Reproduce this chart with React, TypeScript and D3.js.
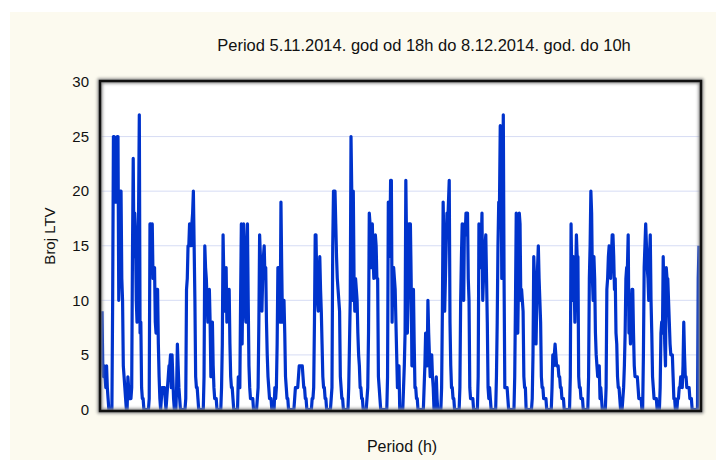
import React from 'react';
import * as d3 from 'd3';

const title = 'Period 5.11.2014. god od 18h do 8.12.2014. god. do 10h';
const yLabel = 'Broj LTV';
const xLabel = 'Period (h)';
const yTicks = [0, 5, 10, 15, 20, 25, 30];

// hourly counts, one row per day (5.11 starts at 18h, 8.12 ends at 10h)
const weekNov05 = [
  9, 4, 3, 4, 3, 2,
  4, 2, 1, 0, 0, 0, 0, 0, 10, 25, 25, 22, 19, 22, 25, 25, 10, 15, 20, 20, 12, 10, 4, 3,
  2, 1, 0, 0, 3, 2, 1, 1, 1, 2, 14, 23, 14, 18, 16, 10, 8, 12, 18, 27, 7, 8, 2, 1,
  1, 0, 0, 0, 0, 0, 0, 0, 1, 17, 17, 15, 17, 12, 13, 13, 8, 7, 11, 11, 6, 3, 1, 0,
  1, 2, 2, 2, 2, 1, 0, 1, 2, 3, 4, 4, 5, 2, 5, 3, 1, 0, 0, 0, 2, 6, 4, 2,
];
const weekNov10 = [
  1, 0, 0, 0, 0, 0, 0, 0, 1, 11, 12, 15, 15, 17, 15, 15, 17, 18, 20, 15, 10, 3, 2, 2,
  1, 0, 0, 0, 0, 0, 0, 0, 3, 15, 13, 12, 10, 8, 9, 11, 8, 3, 5, 8, 4, 2, 1, 1,
  1, 0, 0, 0, 0, 0, 0, 2, 6, 16, 12, 9, 11, 13, 8, 9, 10, 11, 6, 3, 2, 2, 1, 0,
  0, 0, 0, 0, 0, 3, 2, 2, 10, 17, 6, 12, 17, 15, 9, 8, 12, 17, 10, 4, 2, 1, 1, 1,
  1, 0, 0, 0, 0, 0, 1, 2, 8, 16, 14, 10, 9, 12, 14, 15, 12, 13, 8, 5, 3, 2, 1, 1,
  1, 0, 0, 0, 0, 2, 1, 2, 6, 13, 13, 10, 8, 19, 13, 8, 8, 10, 7, 3, 2, 1, 1, 0,
  0, 0, 0, 0, 0, 0, 0, 1, 2, 2, 2, 2, 3, 4, 4, 4, 4, 4, 3, 2, 2, 1, 1, 0,
];
const weekNov17 = [
  0, 0, 0, 0, 0, 0, 1, 1, 2, 8, 16, 16, 12, 10, 9, 12, 14, 11, 9, 6, 3, 2, 2, 1,
  1, 0, 0, 0, 0, 0, 0, 1, 2, 15, 20, 20, 20, 17, 14, 12, 11, 10, 9, 3, 2, 1, 1, 0,
  0, 0, 0, 0, 0, 0, 2, 6, 10, 25, 20, 10, 20, 12, 9, 12, 11, 10, 7, 5, 4, 2, 2, 1,
  1, 0, 0, 0, 0, 0, 1, 2, 7, 18, 17, 13, 15, 17, 14, 12, 13, 16, 15, 12, 12, 3, 2, 1,
  0, 0, 0, 0, 0, 0, 0, 0, 0, 3, 19, 14, 15, 21, 21, 8, 13, 13, 12, 11, 8, 5, 2, 3,
  4, 0, 0, 0, 0, 0, 2, 4, 7, 21, 15, 7, 10, 17, 17, 17, 12, 4, 6, 11, 6, 2, 2, 1,
  1, 0, 0, 0, 0, 0, 0, 0, 0, 2, 4, 7, 6, 4, 10, 7, 5, 3, 4, 5, 3, 2, 0, 0,
];
const weekNov24 = [
  0, 3, 1, 0, 0, 0, 0, 0, 2, 9, 19, 15, 9, 12, 15, 18, 17, 19, 21, 8, 4, 2, 2, 1,
  1, 0, 0, 0, 0, 0, 0, 0, 2, 10, 14, 17, 12, 10, 17, 16, 18, 18, 18, 12, 10, 2, 1, 1,
  1, 1, 0, 0, 0, 0, 0, 0, 3, 17, 15, 13, 15, 18, 10, 12, 14, 15, 16, 12, 8, 2, 1, 2,
  1, 0, 0, 0, 0, 0, 0, 0, 3, 8, 15, 19, 19, 26, 24, 12, 18, 27, 12, 2, 2, 2, 2, 1,
  0, 0, 0, 0, 0, 0, 0, 0, 3, 10, 18, 15, 7, 12, 18, 17, 10, 11, 10, 9, 3, 2, 2, 0,
  0, 0, 0, 0, 0, 0, 0, 1, 5, 14, 12, 8, 6, 10, 13, 15, 12, 10, 8, 3, 2, 2, 1, 1,
  1, 1, 0, 0, 0, 0, 0, 0, 0, 2, 5, 4, 5, 6, 5, 4, 4, 4, 3, 3, 2, 2, 1, 1,
];
const weekDec01 = [
  1, 0, 0, 0, 0, 0, 0, 0, 0, 3, 17, 12, 10, 14, 12, 8, 12, 16, 14, 14, 3, 2, 2, 1,
  1, 1, 0, 0, 0, 0, 0, 0, 0, 3, 12, 15, 20, 18, 12, 10, 14, 12, 7, 5, 4, 3, 3, 4,
  1, 2, 1, 0, 0, 0, 0, 0, 2, 11, 12, 14, 15, 13, 12, 14, 16, 16, 14, 11, 12, 7, 6, 3,
  2, 2, 1, 0, 0, 0, 1, 2, 4, 7, 12, 13, 13, 16, 7, 8, 6, 9, 11, 11, 7, 4, 3, 3,
  3, 3, 2, 1, 1, 1, 1, 0, 0, 5, 13, 15, 17, 15, 13, 12, 10, 14, 16, 10, 7, 3, 2, 1,
  1, 1, 1, 0, 0, 0, 0, 2, 7, 8, 7, 14, 10, 6, 4, 13, 12, 12, 10, 8, 6, 5, 5, 5,
  3, 1, 1, 0, 0, 0, 1, 1, 2, 2, 3, 3, 2, 4, 8, 5, 3, 3, 2, 2, 2, 2, 1, 1,
  1, 0, 0, 0, 0, 0, 0, 0, 0, 12, 15,
];

const counts = [...weekNov05, ...weekNov10, ...weekNov17, ...weekNov24, ...weekDec01];

export default function App() {
  const W = 716, H = 460;
  const fL = 100, fT = 81, fR = 701, fB = 411;

  const x = d3.scaleLinear().domain([0, counts.length - 1]).range([102, 699]);
  const y = d3.scaleLinear().domain([0, 30]).range([409.5, 82]);
  const line = d3.line<number>().x((d, i) => x(i)).y(d => y(d));

  const font = '"Liberation Sans", Arial, sans-serif';

  return (
    <svg width={W} height={H} style={{position: 'absolute', left: 0, top: 0}} fontFamily={font}>
      <defs>
        <filter id="shadow" x="-5%" y="-5%" width="110%" height="110%">
          <feGaussianBlur stdDeviation="1.6" />
        </filter>
      </defs>
      <rect x={0} y={0} width={W} height={H} fill="#ffffff" />
      <rect x={10} y={12} width={W - 10} height={H - 12} fill="#fcfaef" />

      <rect x={fL} y={fT} width={fR - fL} height={fB - fT} fill="#ffffff" />
      {yTicks.filter(t => t > 0 && t < 30).map(t => (
        <line key={t} x1={fL} x2={fR} y1={y(t)} y2={y(t)} stroke="#d6dcf4" strokeWidth={1} />
      ))}

      <path d={line(counts) || ''} fill="none" stroke="#0033cc" strokeWidth={3.2} strokeLinejoin="round" />

      <rect x={fL} y={fT} width={fR - fL} height={fB - fT} fill="none" stroke="#8a8a8a" strokeWidth={5} filter="url(#shadow)" />
      <rect x={fL} y={fT} width={fR - fL} height={fB - fT} fill="none" stroke="#111111" strokeWidth={2.5} />

      {yTicks.map(t => (
        <text key={t} x={89} y={y(t)} dy="0.35em" textAnchor="end" fontSize={15} fill="#111">{t}</text>
      ))}

      <text x={424} y={51} textAnchor="middle" fontSize={16.5} fill="#111">{title}</text>
      <text x={402} y={452} textAnchor="middle" fontSize={16} fill="#111">{xLabel}</text>
      <text transform="translate(55,236) rotate(-90)" textAnchor="middle" fontSize={15} fill="#111">{yLabel}</text>
    </svg>
  );
}
